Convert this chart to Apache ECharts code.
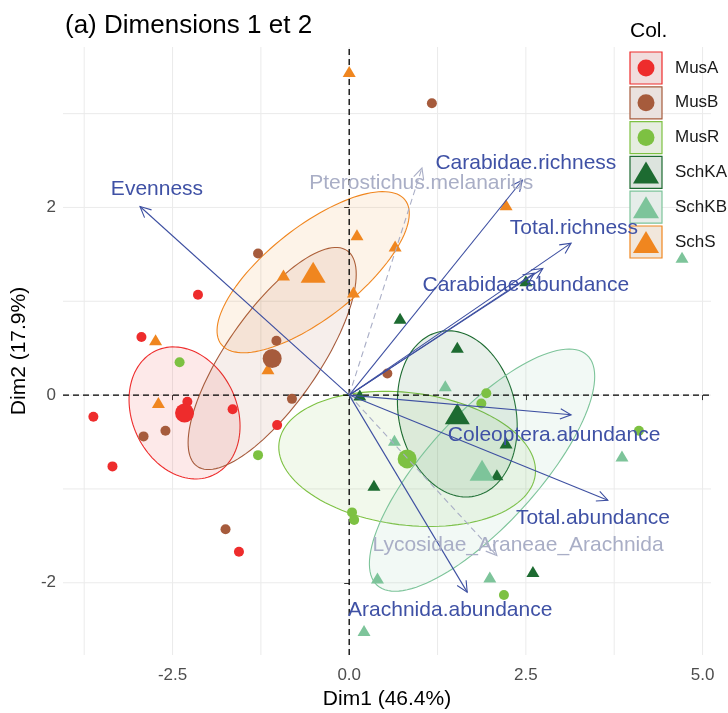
<!DOCTYPE html>
<html>
<head>
<meta charset="utf-8">
<script src="https://cdn.jsdelivr.net/npm/echarts@6/dist/echarts.min.js"></script>
<style>
html,body{margin:0;padding:0;background:#fff}
#main{width:728px;height:713px}
</style>
</head>
<body>
<div id="main"></div>
<script>
var FONT = '"Liberation Sans", Arial, sans-serif';

// groups
var groups = ['MusA', 'MusB', 'MusR', 'SchKA', 'SchKB', 'SchS'];
var groupColors = ['#EE2C2C', '#A65B3C', '#7DC142', '#1D6B31', '#7DC49A', '#F0861F'];
var groupShapes = ['circle', 'circle', 'circle', 'triangle', 'triangle', 'triangle'];

// individuals (Dim1, Dim2)
var musA = [[-3.62, -0.23], [-3.35, -0.76], [-2.94, 0.62], [-2.14, 1.07], [-2.29, -0.07], [-1.65, -0.15], [-1.02, -0.32], [-1.56, -1.67]];
var musB = [[-1.29, 1.51], [-1.03, 0.58], [-0.81, -0.04], [-2.91, -0.44], [-2.60, -0.38], [-1.75, -1.43], [1.17, 3.11], [0.54, 0.23]];
var musR = [[-2.40, 0.35], [-1.29, -0.64], [0.04, -1.25], [0.07, -1.33], [1.94, 0.02], [1.87, -0.09], [4.10, -0.38], [2.19, -2.13]];
var schKA = [[2.50, 1.22], [0.72, 0.82], [1.53, 0.51], [2.22, -0.51], [2.09, -0.85], [0.35, -0.96], [2.60, -1.88], [0.15, 0.0]];
var schKB = [[4.71, 1.47], [1.36, 0.10], [0.64, -0.48], [3.86, -0.65], [0.40, -1.95], [1.99, -1.94], [0.21, -2.51]];
var schS = [[0.0, 3.45], [2.22, 2.03], [-2.74, 0.59], [-2.70, -0.08], [-0.93, 1.28], [0.06, 1.10], [-1.15, 0.28], [0.11, 1.71], [0.65, 1.59]];
var groupPoints = [musA, musB, musR, schKA, schKB, schS];

// group centroids
var centroids = [[-2.33, -0.19], [-1.09, 0.39], [0.82, -0.68], [1.53, -0.20], [1.88, -0.80], [-0.51, 1.31]];

// confidence ellipses: centre, first semi-axis vector, second semi-axis vector
var ellipses = [
  [-2.33, -0.19, -0.40, 0.665, 0.676, 0.23],
  [-1.09, 0.39, 1.06, 1.15, 0.54, -0.28],
  [0.82, -0.68, 1.813, -0.17, 0.115, 0.70],
  [1.53, -0.20, -0.25, 0.876, 0.81, 0.132],
  [1.88, -0.80, 1.485, 1.227, 0.58, -0.40],
  [-0.51, 1.31, 1.30, 0.77, 0.40, -0.38]
];

// variables (arrows)
var varNames = ['Evenness', 'Pterostichus.melanarius', 'Carabidae.richness', 'Total.richness', 'Carabidae.abundance', '',
  'Coleoptera.abundance', 'Total.abundance', 'Lycosidae_Araneae_Arachnida', 'Arachnida.abundance'];
var varTips = [[-2.96, 2.01], [1.03, 2.42], [2.45, 2.29], [3.14, 1.62], [2.74, 1.35], [2.62, 1.30],
  [3.14, -0.21], [3.66, -1.12], [2.09, -1.71], [1.67, -2.10]];
var varLabelPos = [[-2.72, 2.19], [1.02, 2.26], [2.50, 2.47], [3.18, 1.78], [2.50, 1.17], [2.5, 1.17],
  [2.90, -0.43], [3.45, -1.31], [2.39, -1.60], [1.43, -2.29]];
var varSupp = [0, 1, 0, 0, 0, 0, 0, 0, 1, 0];

// axes
var xRange = [-4.05, 5.12];
var yRange = [-2.77, 3.71];
var xTicks = [-2.5, 0, 2.5, 5];
var yTicks = [-2, 0, 2];
var xMinor = [-3.75, -1.25, 1.25, 3.75];
var yMinor = [-1, 1, 3];

function rgba(hex, a) {
  var n = parseInt(hex.slice(1), 16);
  return 'rgba(' + (n >> 16) + ',' + ((n >> 8) & 255) + ',' + (n & 255) + ',' + a + ')';
}

var chart = echarts.init(document.getElementById('main'));

var series = [];

// grid lines
series.push({
  type: 'custom', silent: true, z: 0,
  data: xTicks.concat(xMinor).map(function (v) { return [v, 0]; }),
  renderItem: function (params, api) {
    var a = api.coord([api.value(0), yRange[0]]), b = api.coord([api.value(0), yRange[1]]);
    return {type: 'line', shape: {x1: a[0], y1: a[1], x2: b[0], y2: b[1]}, style: {stroke: '#EBEBEB', lineWidth: 1}};
  }
});
series.push({
  type: 'custom', silent: true, z: 0,
  data: yTicks.concat(yMinor).map(function (v) { return [0, v]; }),
  renderItem: function (params, api) {
    var a = api.coord([xRange[0], api.value(1)]), b = api.coord([xRange[1], api.value(1)]);
    return {type: 'line', shape: {x1: a[0], y1: a[1], x2: b[0], y2: b[1]}, style: {stroke: '#EBEBEB', lineWidth: 1}};
  }
});

// ellipses
series.push({
  type: 'custom', silent: true, z: 1,
  data: ellipses,
  renderItem: function (params, api) {
    var e = ellipses[params.dataIndex];
    var pts = [];
    for (var k = 0; k < 120; k++) {
      var t = 2 * Math.PI * k / 120;
      pts.push(api.coord([e[0] + e[2] * Math.cos(t) + e[4] * Math.sin(t), e[1] + e[3] * Math.cos(t) + e[5] * Math.sin(t)]));
    }
    var c = groupColors[params.dataIndex];
    return {type: 'polygon', shape: {points: pts}, style: {fill: rgba(c, 0.1), stroke: c, lineWidth: 1.1}};
  }
});

// zero lines
series.push({
  type: 'custom', silent: true, z: 2,
  data: [[0, 0]],
  renderItem: function (params, api) {
    var a = api.coord([0, yRange[0]]), b = api.coord([0, yRange[1]]);
    var c = api.coord([xRange[0], 0]), d = api.coord([xRange[1], 0]);
    var st = {stroke: '#000', lineWidth: 1.3, lineDash: [6, 4]};
    return {type: 'group', children: [
      {type: 'line', shape: {x1: a[0], y1: a[1], x2: b[0], y2: b[1]}, style: st},
      {type: 'line', shape: {x1: c[0], y1: c[1], x2: d[0], y2: d[1]}, style: st}
    ]};
  }
});

// points and centroids
groups.forEach(function (g, i) {
  var tri = groupShapes[i] === 'triangle';
  series.push({
    name: g, type: 'scatter', z: 3, silent: true,
    symbol: groupShapes[i], symbolSize: tri ? [13, 11] : 10,
    itemStyle: {color: groupColors[i], opacity: 1},
    data: groupPoints[i]
  });
  series.push({
    name: g + ' centroid', type: 'scatter', z: 4, silent: true,
    symbol: groupShapes[i], symbolSize: tri ? [25, 21] : 19,
    itemStyle: {color: groupColors[i], opacity: 1},
    data: [centroids[i]]
  });
});

// arrows
series.push({
  type: 'custom', silent: true, z: 5,
  data: varTips,
  renderItem: function (params, api) {
    var i = params.dataIndex;
    var o = api.coord([0, 0]);
    var t = api.coord(varTips[i]);
    var ang = Math.atan2(t[1] - o[1], t[0] - o[0]);
    var L = 12, a = Math.PI / 7;
    var p1 = [t[0] - L * Math.cos(ang - a), t[1] - L * Math.sin(ang - a)];
    var p2 = [t[0] - L * Math.cos(ang + a), t[1] - L * Math.sin(ang + a)];
    var supp = varSupp[i] === 1;
    var st = {stroke: supp ? '#A9AEC6' : '#3D4FA1', lineWidth: 1.1, fill: null, lineDash: supp ? [6, 4] : null};
    return {type: 'group', children: [
      {type: 'line', shape: {x1: o[0], y1: o[1], x2: t[0], y2: t[1]}, style: st},
      {type: 'polyline', shape: {points: [p1, t, p2]}, style: {stroke: st.stroke, lineWidth: 1.1, fill: null}}
    ]};
  }
});

// arrow labels
series.push({
  type: 'custom', silent: true, z: 10,
  data: varLabelPos,
  renderItem: function (params, api) {
    var i = params.dataIndex;
    var p = api.coord(varLabelPos[i]);
    return {type: 'text', x: p[0], y: p[1], style: {
      text: varNames[i], fill: varSupp[i] ? '#A9AEC6' : '#3F51A5',
      fontSize: 21, fontFamily: FONT, align: 'center', verticalAlign: 'middle'
    }};
  }
});

// legend
var legendGraphics = [{type: 'text', x: 630, y: 21, z: 1, style: {text: 'Col.', fontSize: 21, fontFamily: FONT, fill: '#000'}}];
groups.forEach(function (g, i) {
  var top = 52 + i * 34.8, c = groupColors[i];
  legendGraphics.push({type: 'rect', z: 1, shape: {x: 630, y: top, width: 32, height: 32}, style: {fill: '#F2F2F2'}});
  legendGraphics.push({type: 'rect', z: 1, shape: {x: 630, y: top, width: 32, height: 32}, style: {fill: rgba(c, 0.1), stroke: c, lineWidth: 1.2}});
  if (groupShapes[i] === 'circle') {
    legendGraphics.push({type: 'circle', z: 1, shape: {cx: 646, cy: top + 16, r: 8.5}, style: {fill: c}});
  } else {
    legendGraphics.push({type: 'polygon', z: 1, shape: {points: [[646, top + 5], [633, top + 27], [659, top + 27]]}, style: {fill: c}});
  }
  legendGraphics.push({type: 'text', z: 1, x: 675, y: top + 16, style: {text: g, fontSize: 17, fontFamily: FONT, fill: '#1A1A1A', verticalAlign: 'middle'}});
});

chart.setOption({
  animation: false,
  backgroundColor: '#fff',
  title: {text: '(a) Dimensions 1 et 2', left: 60, top: 8, textStyle: {fontSize: 26, fontWeight: 'normal', color: '#000', fontFamily: FONT}},
  grid: {left: 63, right: 17, top: 47, bottom: 58, containLabel: false, outerBoundsMode: 'none'},
  xAxis: {
    type: 'value', min: xRange[0], max: xRange[1],
    name: 'Dim1 (46.4%)', nameLocation: 'middle', nameGap: 31,
    nameTextStyle: {fontSize: 21, color: '#000', fontFamily: FONT},
    axisLine: {show: false}, splitLine: {show: false},
    axisTick: {show: true, customValues: xTicks, length: 5, lineStyle: {color: '#333'}},
    axisLabel: {customValues: xTicks, margin: 12, fontSize: 17, color: '#4D4D4D', fontFamily: FONT,
      formatter: function (v) { return v.toFixed(1); }}
  },
  yAxis: {
    type: 'value', min: yRange[0], max: yRange[1],
    name: 'Dim2 (17.9%)', nameLocation: 'middle', nameGap: 27, nameRotate: 90,
    nameTextStyle: {fontSize: 21, color: '#000', fontFamily: FONT},
    axisLine: {show: false}, splitLine: {show: false},
    axisTick: {show: true, customValues: yTicks, length: 5, lineStyle: {color: '#333'}},
    axisLabel: {customValues: yTicks, margin: 7, fontSize: 17, color: '#4D4D4D', fontFamily: FONT,
      formatter: function (v) { return String(v); }}
  },
  graphic: legendGraphics,
  series: series
});
</script>
</body>
</html>
